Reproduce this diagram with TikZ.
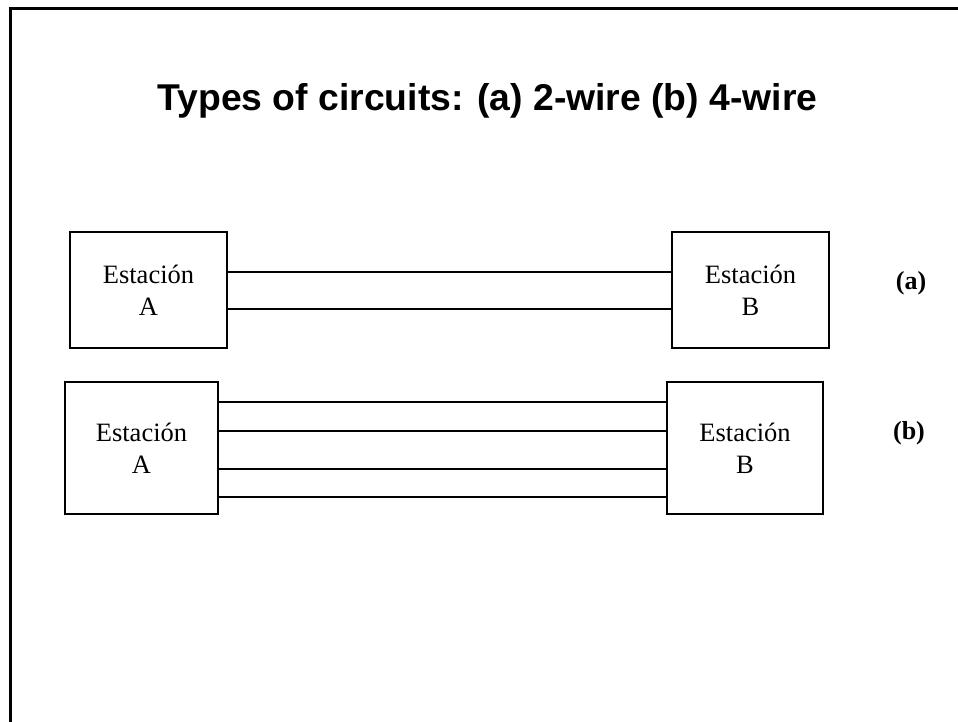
\documentclass[tikz,border=0pt]{standalone}
\usepackage{fontspec}
\setmainfont{Liberation Serif}
\newfontfamily\titlefont{Liberation Sans}
\usepackage{xcolor}

\tikzset{
  station/.style={draw,line width=1.5pt,align=center,inner sep=0pt,
    font=\fontsize{26.5}{32}\selectfont},
  wire/.style={line width=1.5pt},
  caselabel/.style={font=\fontsize{26}{32}\selectfont\bfseries}
}

\begin{document}
\begin{tikzpicture}[x=1pt,y=-1pt]
            \useasboundingbox (0,0) rectangle (958,722);
            % Slide frame
            \draw[line width=2.5pt] (958,8.5) -- (10.5,8.5) -- (10.5,722);
            \node[font=\titlefont\fontsize{37.3}{44}\selectfont\bfseries] (title) at (487.5,101) {Types of circuits: (a) 2-wire (b) 4-wire};

            % (a) 2-wire circuit
            \node[station,minimum width=157pt,minimum height=116pt] (aA) at (148.5,290) {Estación\\A};
            \node[station,minimum width=157pt,minimum height=116pt] (aB) at (750.5,290) {Estación\\B};
            \node[caselabel] (alabel) at (911,283) {(a)};

            % (b) 4-wire circuit
            \node[station,minimum width=153pt,minimum height=132pt] (bA) at (141.5,448) {Estación\\A};
            \node[station,minimum width=156pt,minimum height=132pt] (bB) at (745,448) {Estación\\B};
            \node[caselabel] (blabel) at (909,433) {(b)};

            % Connections
            \draw[wire] ([yshift=18pt]aA.east) -- ([yshift=18pt]aB.west);
            \draw[wire] ([yshift=-19pt]aA.east) -- ([yshift=-19pt]aB.west);
            \foreach \dy in {46,17,-21,-49}
              \draw[wire] ([yshift=\dy pt]bA.east) -- ([yshift=\dy pt]bB.west);
        \end{tikzpicture}
\end{document}
